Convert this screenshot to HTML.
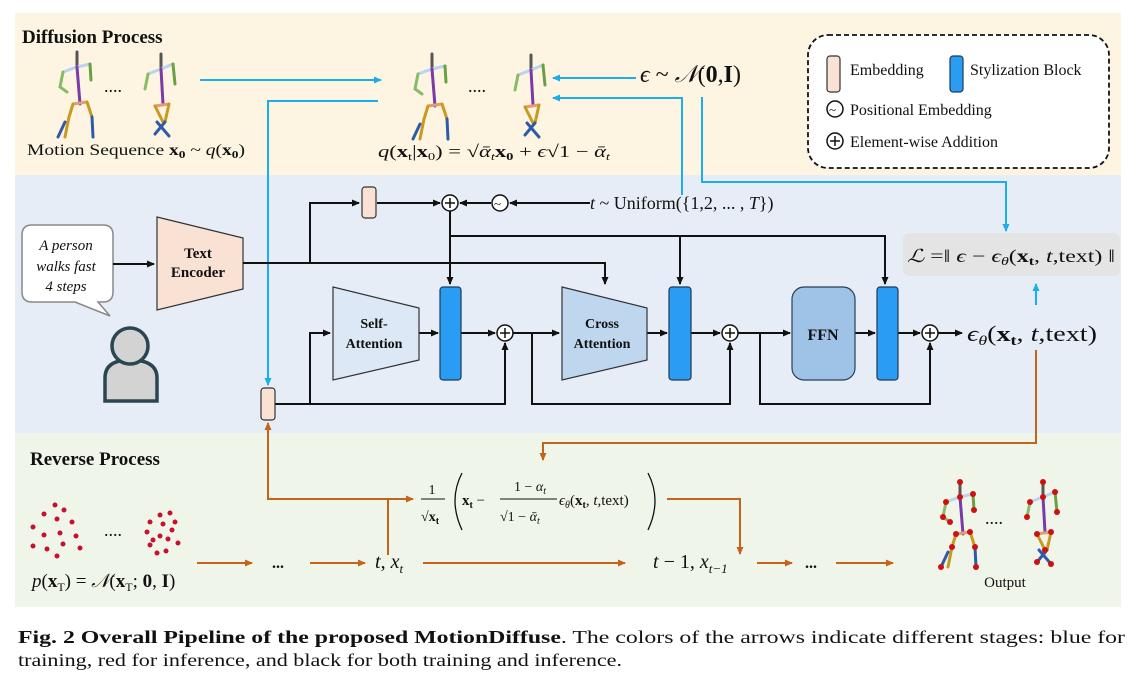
<!DOCTYPE html>
<html><head><meta charset="utf-8"><style>
html,body{margin:0;padding:0;background:#fff;}
svg{display:block;}
text{font-family:"Liberation Serif","DejaVu Serif",serif;fill:#111;}
.b{font-weight:bold;}
.i{font-style:italic;}
</style></head><body>
<svg width="1134" height="681" viewBox="0 0 1134 681" xmlns="http://www.w3.org/2000/svg">
<defs>
<marker id="ak" markerWidth="8" markerHeight="8" refX="7" refY="4" orient="auto" markerUnits="userSpaceOnUse"><path d="M0,0.5 L8,4 L0,7.5z" fill="#111"/></marker>
<marker id="ab" markerWidth="8" markerHeight="8" refX="7" refY="4" orient="auto" markerUnits="userSpaceOnUse"><path d="M0,0.5 L8,4 L0,7.5z" fill="#1aaeea"/></marker>
<marker id="ao" markerWidth="8" markerHeight="8" refX="7" refY="4" orient="auto" markerUnits="userSpaceOnUse"><path d="M0,0.5 L8,4 L0,7.5z" fill="#c5621c"/></marker>
<g id="skA" fill="none" stroke-width="3" stroke-linecap="round">
<path d="M22,0 L22,15" stroke="#555"/>
<path d="M8,20 L22,15 L35,12" stroke="#b8d4ef"/>
<path d="M8,20 L5,35 L12,40" stroke="#88bb66"/>
<path d="M35,12 L36,28" stroke="#6aa044"/>
<path d="M22,15 L25,52" stroke="#7a3aa8"/>
<path d="M18,52 L32,50" stroke="#e89a70"/>
<path d="M18,52 L14,65 L10,85" stroke="#c99a20"/>
<path d="M32,50 L37,65" stroke="#c99a20"/>
<path d="M10,70 L3,85 M37,65 L38,85" stroke="#2f5aa8"/>
</g>
<g id="skB" fill="none" stroke-width="3" stroke-linecap="round">
<path d="M18,0 L18,15" stroke="#555"/>
<path d="M5,20 L18,15 L30,10" stroke="#b8d4ef"/>
<path d="M5,20 L2,35" stroke="#88bb66"/>
<path d="M30,10 L32,30" stroke="#6aa044"/>
<path d="M18,15 L20,50" stroke="#7a3aa8"/>
<path d="M12,52 L26,50" stroke="#e89a70"/>
<path d="M12,52 L20,68 M26,50 L22,68" stroke="#c99a20"/>
<path d="M22,68 L12,80 M14,68 L26,82" stroke="#2f5aa8"/>
</g>
<g id="oplus"><circle r="8" fill="#fff" stroke="#111" stroke-width="1.5"/><path d="M-5,0H5M0,-5V5" stroke="#111" stroke-width="1.5"/></g>
</defs>

<rect x="15" y="13" width="1106" height="162" fill="#fdf5e2"/>
<rect x="15" y="175" width="1106" height="258" fill="#e7edf7"/>
<rect x="15" y="433" width="1106" height="174" fill="#f0f5ea"/>

<text x="22" y="43" font-size="19" class="b">Diffusion Process</text>
<use href="#skA" x="55" y="52"/>
<text x="104" y="92" font-size="18">....</text>
<use href="#skB" x="143" y="54"/>
<line x1="200" y1="80" x2="381" y2="80" stroke="#1aaeea" stroke-width="2" marker-end="url(#ab)"/>
<use href="#skA" x="410" y="54"/>
<text x="468" y="92" font-size="18">....</text>
<use href="#skB" x="513" y="55"/>
<text x="27" y="155" font-size="16" textLength="218" lengthAdjust="spacingAndGlyphs">Motion Sequence <tspan class="b">x</tspan><tspan class="b" font-size="11" dy="3">0</tspan><tspan dy="-3"> ~ </tspan><tspan class="i">q</tspan>(<tspan class="b">x</tspan><tspan class="b" font-size="11" dy="3">0</tspan><tspan dy="-3">)</tspan></text>
<text x="378" y="157" font-size="17" textLength="232" lengthAdjust="spacingAndGlyphs"><tspan class="i">q</tspan>(<tspan class="b">x</tspan><tspan font-size="11" dy="3">t</tspan><tspan dy="-3">|</tspan><tspan class="b">x</tspan><tspan font-size="11" dy="3">0</tspan><tspan dy="-3">) = √</tspan><tspan class="i">ᾱ</tspan><tspan class="i" font-size="11" dy="3">t</tspan><tspan class="b" dy="-3">x</tspan><tspan class="b" font-size="11" dy="3">0</tspan><tspan dy="-3"> + </tspan><tspan class="i">ϵ</tspan>√1 − <tspan class="i">ᾱ</tspan><tspan class="i" font-size="11" dy="3">t</tspan></text>
<text x="640" y="82" font-size="24"><tspan class="i">ϵ</tspan> ~ <tspan class="i">𝒩</tspan>(<tspan class="b">0</tspan>,<tspan class="b">I</tspan>)</text>
<line x1="636" y1="78" x2="553" y2="78" stroke="#1aaeea" stroke-width="2" marker-end="url(#ab)"/>
<polyline points="682,195 682,98 553,98" fill="none" stroke="#1aaeea" stroke-width="2" marker-end="url(#ab)"/>
<polyline points="378,101 268,101 268,385" fill="none" stroke="#1aaeea" stroke-width="2" marker-end="url(#ab)"/>
<polyline points="702,97 702,182 1006,182 1006,231" fill="none" stroke="#1aaeea" stroke-width="2" marker-end="url(#ab)"/>

<rect x="808" y="35" width="301" height="133" rx="20" fill="#fff" stroke="#111" stroke-width="1.8" stroke-dasharray="5,3"/>
<rect x="827" y="56" width="13" height="36" rx="3" fill="#f9e1d4" stroke="#333" stroke-width="1.2"/>
<text x="850" y="75" font-size="16">Embedding</text>
<rect x="950" y="56" width="13" height="36" rx="3" fill="#2b9cf3" stroke="#1c3a5a" stroke-width="1.2"/>
<text x="970" y="75" font-size="16">Stylization Block</text>
<circle cx="835" cy="109" r="8" fill="#fff" stroke="#111" stroke-width="1.5"/><text x="829" y="114" font-size="13">~</text>
<text x="850" y="115" font-size="16">Positional Embedding</text>
<use href="#oplus" x="835" y="141"/>
<text x="850" y="147" font-size="16">Element-wise Addition</text>

<path d="M32,225 H103 Q113,225 113,235 V292 Q113,302 103,302 H98 L110,316 L75,302 H32 Q22,302 22,292 V235 Q22,225 32,225z" fill="#fff" stroke="#888" stroke-width="1.5"/>
<text x="66" y="250" font-size="15" class="i" text-anchor="middle">A person</text>
<text x="66" y="271" font-size="15" class="i" text-anchor="middle">walks fast</text>
<text x="66" y="291" font-size="15" class="i" text-anchor="middle">4 steps</text>
<path d="M105,401 V378 Q105,360 130,360 Q157,360 157,378 V401z" fill="#d3d3d3" stroke="#2a4650" stroke-width="3.5"/>
<circle cx="130" cy="346" r="18" fill="#d3d3d3" stroke="#2a4650" stroke-width="3.5"/>
<line x1="113" y1="264" x2="154" y2="264" stroke="#111" stroke-width="2" marker-end="url(#ak)"/>
<polygon points="157,217 243,238 243,289 157,310" fill="#f9e1d4" stroke="#333" stroke-width="1.2"/>
<text x="198" y="258" font-size="15" class="b" text-anchor="middle">Text</text>
<text x="198" y="277" font-size="15" class="b" text-anchor="middle">Encoder</text>

<g fill="none" stroke="#111" stroke-width="2">
<polyline points="243,263 605,263 605,284" marker-end="url(#ak)"/>
<polyline points="310,263 310,203 359,203" marker-end="url(#ak)"/>
<line x1="377" y1="203" x2="440" y2="203" marker-end="url(#ak)"/>
<line x1="590" y1="203" x2="510" y2="203" marker-end="url(#ak)"/>
<line x1="491" y1="203" x2="460" y2="203" marker-end="url(#ak)"/>
<polyline points="450,211 450,284" marker-end="url(#ak)"/>
<polyline points="450,236 885,236 885,284" marker-end="url(#ak)"/>
<polyline points="680,236 680,284" marker-end="url(#ak)"/>
<polyline points="275,404 505,404 505,343" marker-end="url(#ak)"/>
<polyline points="310,404 310,333 330,333" marker-end="url(#ak)"/>
<line x1="419" y1="333" x2="438" y2="333" marker-end="url(#ak)"/>
<line x1="461" y1="333" x2="495" y2="333" marker-end="url(#ak)"/>
<line x1="513" y1="333" x2="559" y2="333" marker-end="url(#ak)"/>
<polyline points="532,333 532,404 730,404 730,343" marker-end="url(#ak)"/>
<line x1="647" y1="333" x2="667" y2="333" marker-end="url(#ak)"/>
<line x1="691" y1="333" x2="720" y2="333" marker-end="url(#ak)"/>
<line x1="738" y1="333" x2="790" y2="333" marker-end="url(#ak)"/>
<polyline points="760,333 760,404 930,404 930,343" marker-end="url(#ak)"/>
<line x1="855" y1="333" x2="875" y2="333" marker-end="url(#ak)"/>
<line x1="898" y1="333" x2="920" y2="333" marker-end="url(#ak)"/>
<line x1="938" y1="333" x2="962" y2="333" marker-end="url(#ak)"/>
</g>
<rect x="362" y="187" width="14" height="31" rx="3" fill="#f9e1d4" stroke="#333" stroke-width="1.2"/>
<use href="#oplus" x="450" y="203"/>
<circle cx="500" cy="203" r="8" fill="#fff" stroke="#111" stroke-width="1.5"/><text x="494" y="208" font-size="13">~</text>
<text x="590" y="209" font-size="18"><tspan class="i">t</tspan> ~ Uniform({1,2, ... , <tspan class="i">T</tspan>})</text>
<rect x="261" y="388" width="14" height="32" rx="3" fill="#f9e1d4" stroke="#333" stroke-width="1.2"/>
<polygon points="333,287 419,308 419,360 333,380" fill="#dce8f5" stroke="#333" stroke-width="1.2"/>
<text x="374" y="328" font-size="14" class="b" text-anchor="middle">Self-</text>
<text x="374" y="348" font-size="14" class="b" text-anchor="middle">Attention</text>
<rect x="440" y="287" width="21" height="93" rx="3" fill="#2b9cf3" stroke="#1c3a5a" stroke-width="1.2"/>
<use href="#oplus" x="505" y="333"/>
<polygon points="562,287 647,308 647,360 562,380" fill="#bed7ee" stroke="#333" stroke-width="1.2"/>
<text x="602" y="328" font-size="14" class="b" text-anchor="middle">Cross</text>
<text x="602" y="348" font-size="14" class="b" text-anchor="middle">Attention</text>
<rect x="669" y="287" width="22" height="93" rx="3" fill="#2b9cf3" stroke="#1c3a5a" stroke-width="1.2"/>
<use href="#oplus" x="730" y="333"/>
<rect x="792" y="287" width="63" height="93" rx="12" fill="#9fc3e7" stroke="#2a3f55" stroke-width="1.2"/>
<text x="823" y="340" font-size="16" class="b" text-anchor="middle">FFN</text>
<rect x="877" y="287" width="21" height="93" rx="3" fill="#2b9cf3" stroke="#1c3a5a" stroke-width="1.2"/>
<use href="#oplus" x="930" y="333"/>
<text x="967" y="341" font-size="22" textLength="130" lengthAdjust="spacingAndGlyphs"><tspan class="i">ϵ</tspan><tspan class="i" font-size="14" dy="4">θ</tspan><tspan dy="-4">(</tspan><tspan class="b">x</tspan><tspan class="b" font-size="14" dy="4">t</tspan><tspan dy="-4">, </tspan><tspan class="i">t</tspan>,text)</text>
<rect x="903" y="233" width="217" height="43" rx="6" fill="#e4e4e4"/>
<text x="907" y="262" font-size="18" textLength="208" lengthAdjust="spacingAndGlyphs"><tspan class="i">ℒ</tspan> =‖ <tspan class="i">ϵ</tspan> − <tspan class="i">ϵ</tspan><tspan class="i" font-size="12" dy="3">θ</tspan><tspan dy="-3">(</tspan><tspan class="b">x</tspan><tspan class="b" font-size="12" dy="3">t</tspan><tspan dy="-3">, </tspan><tspan class="i">t</tspan>,text) ‖</text>
<line x1="1036" y1="305" x2="1036" y2="284" stroke="#1aaeea" stroke-width="2" marker-end="url(#ab)"/>

<g fill="none" stroke="#c5621c" stroke-width="2">
<polyline points="1036,350 1036,443 543,443 543,460" marker-end="url(#ao)"/>
<polyline points="388,555 388,499 268,499 268,423" marker-end="url(#ao)"/>
<line x1="388" y1="499" x2="413" y2="499" marker-end="url(#ao)"/>
<polyline points="667,499 740,499 740,554" marker-end="url(#ao)"/>
<line x1="197" y1="563" x2="252" y2="563" marker-end="url(#ao)"/>
<line x1="310" y1="563" x2="365" y2="563" marker-end="url(#ao)"/>
<line x1="423" y1="563" x2="625" y2="563" marker-end="url(#ao)"/>
<line x1="757" y1="563" x2="792" y2="563" marker-end="url(#ao)"/>
<line x1="836" y1="563" x2="893" y2="563" marker-end="url(#ao)"/>
</g>
<text x="30" y="465" font-size="19" class="b">Reverse Process</text>
<g fill="#c8102e">
<circle cx="55" cy="505" r="2.5"/><circle cx="44" cy="514" r="2.5"/><circle cx="64" cy="510" r="2.5"/><circle cx="57" cy="519" r="2.5"/><circle cx="33" cy="527" r="2.5"/><circle cx="72" cy="522" r="2.5"/><circle cx="44" cy="535" r="2.5"/><circle cx="60" cy="533" r="2.5"/><circle cx="76" cy="536" r="2.5"/><circle cx="33" cy="546" r="2.5"/><circle cx="47" cy="549" r="2.5"/><circle cx="63" cy="544" r="2.5"/><circle cx="80" cy="548" r="2.5"/><circle cx="57" cy="556" r="2.5"/>
<circle cx="160" cy="515" r="2.5"/><circle cx="170" cy="513" r="2.5"/><circle cx="150" cy="522" r="2.5"/><circle cx="163" cy="524" r="2.5"/><circle cx="175" cy="522" r="2.5"/><circle cx="147" cy="532" r="2.5"/><circle cx="160" cy="536" r="2.5"/><circle cx="172" cy="530" r="2.5"/><circle cx="153" cy="540" r="2.5"/><circle cx="168" cy="539" r="2.5"/><circle cx="150" cy="545" r="2.5"/><circle cx="178" cy="543" r="2.5"/><circle cx="157" cy="553" r="2.5"/><circle cx="166" cy="551" r="2.5"/>
</g>
<text x="104" y="536" font-size="18">....</text>
<text x="32" y="587" font-size="19"><tspan class="i">p</tspan>(<tspan class="b">x</tspan><tspan font-size="12" dy="4">T</tspan><tspan dy="-4">) = </tspan><tspan class="i">𝒩</tspan>(<tspan class="b">x</tspan><tspan font-size="12" dy="4">T</tspan><tspan dy="-4">; </tspan><tspan class="b">0</tspan>, <tspan class="b">I</tspan>)</text>
<text x="272" y="568" font-size="16" class="b">...</text>
<text x="375" y="568" font-size="20"><tspan class="i">t</tspan>, <tspan class="i">x</tspan><tspan class="i" font-size="13" dy="5">t</tspan></text>
<text x="653" y="568" font-size="20"><tspan class="i">t</tspan> − 1, <tspan class="i">x</tspan><tspan class="i" font-size="13" dy="5">t−1</tspan></text>
<text x="805" y="568" font-size="16" class="b">...</text>
<text x="432" y="494" font-size="14" text-anchor="middle">1</text>
<line x1="421" y1="499" x2="445" y2="499" stroke="#111" stroke-width="1"/>
<text x="421" y="521" font-size="14">√<tspan class="b">x</tspan><tspan class="b" font-size="10" dy="3">t</tspan></text>
<text x="462" y="505" font-size="15"><tspan class="b">x</tspan><tspan class="b" font-size="10" dy="3">t</tspan><tspan dy="-3"> −</tspan></text>
<text x="530" y="491" font-size="14" text-anchor="middle">1 − <tspan class="i">α</tspan><tspan class="i" font-size="10" dy="3">t</tspan></text>
<line x1="500" y1="499" x2="557" y2="499" stroke="#111" stroke-width="1"/>
<text x="500" y="521" font-size="14">√1 − <tspan class="i">ᾱ</tspan><tspan class="i" font-size="10" dy="3">t</tspan></text>
<text x="559" y="505" font-size="15"><tspan class="i">ϵ</tspan><tspan class="i" font-size="10" dy="3">θ</tspan><tspan dy="-3">(</tspan><tspan class="b">x</tspan><tspan class="b" font-size="10" dy="3">t</tspan><tspan dy="-3">, </tspan><tspan class="i">t</tspan>,text)</text>
<path d="M462,473 Q448,500 462,530" fill="none" stroke="#111" stroke-width="1.3"/>
<path d="M648,473 Q662,500 648,530" fill="none" stroke="#111" stroke-width="1.3"/>
<g transform="translate(938,482)"><use href="#skA"/><g fill="#d01010"><circle cx="22" cy="0" r="3"/><circle cx="22" cy="15" r="3"/><circle cx="8" cy="20" r="3"/><circle cx="35" cy="12" r="3"/><circle cx="5" cy="35" r="3"/><circle cx="12" cy="40" r="3"/><circle cx="36" cy="28" r="3"/><circle cx="18" cy="52" r="3"/><circle cx="32" cy="50" r="3"/><circle cx="14" cy="65" r="3"/><circle cx="37" cy="65" r="3"/><circle cx="3" cy="85" r="3"/><circle cx="38" cy="85" r="3"/></g></g>
<text x="985" y="524" font-size="18">....</text>
<g transform="translate(1025,482)"><use href="#skB"/><g fill="#d01010"><circle cx="18" cy="0" r="3"/><circle cx="18" cy="15" r="3"/><circle cx="5" cy="20" r="3"/><circle cx="30" cy="10" r="3"/><circle cx="2" cy="35" r="3"/><circle cx="32" cy="30" r="3"/><circle cx="12" cy="52" r="3"/><circle cx="26" cy="50" r="3"/><circle cx="20" cy="68" r="3"/><circle cx="12" cy="80" r="3"/><circle cx="26" cy="82" r="3"/></g></g>
<text x="1005" y="587" font-size="15" text-anchor="middle">Output</text>

<text x="18" y="643" font-size="18" textLength="1107" lengthAdjust="spacingAndGlyphs"><tspan class="b">Fig. 2 Overall Pipeline of the proposed MotionDiffuse</tspan>. The colors of the arrows indicate different stages: blue for</text>
<text x="18" y="666" font-size="18" textLength="604" lengthAdjust="spacingAndGlyphs">training, red for inference, and black for both training and inference.</text>
</svg>
</body></html>
